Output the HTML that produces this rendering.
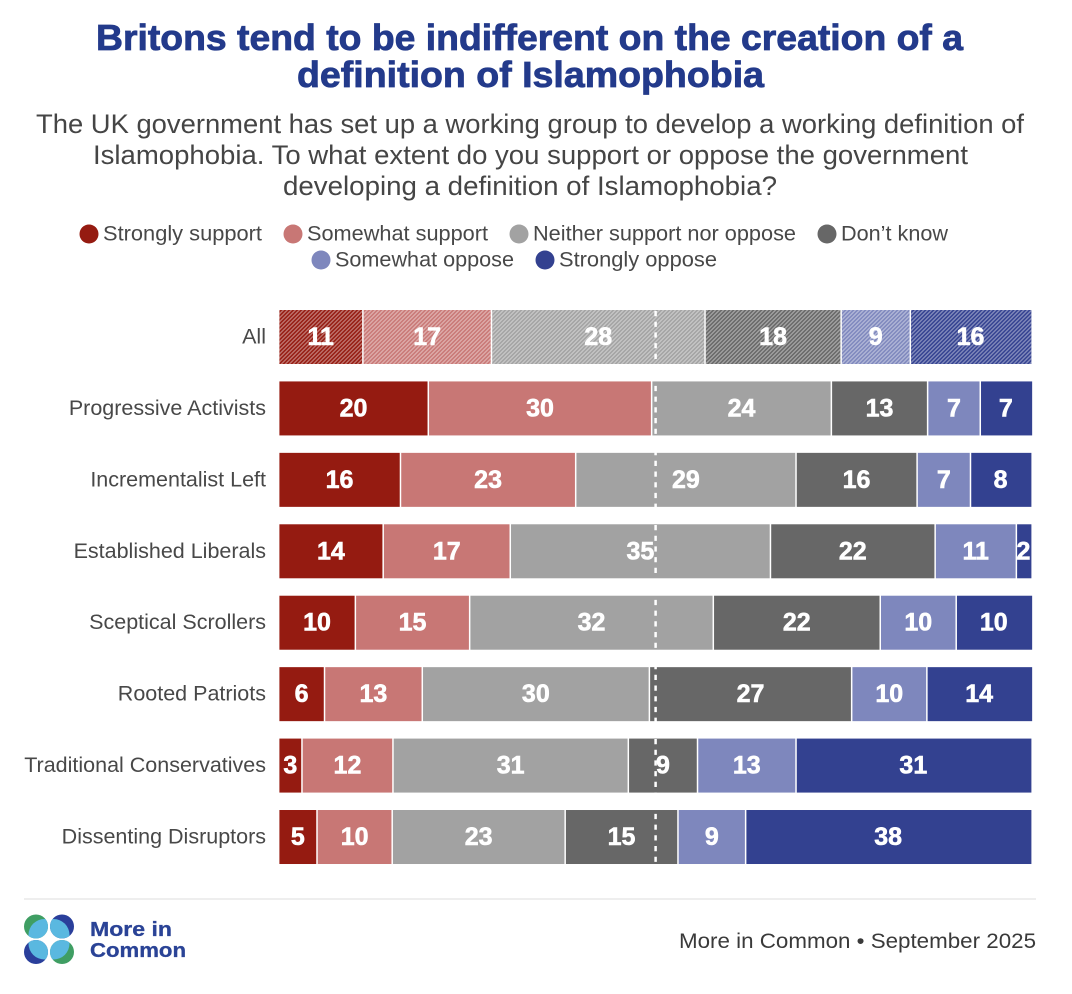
<!DOCTYPE html>
<html lang="en">
<head>
<meta charset="utf-8">
<title>Britons tend to be indifferent on the creation of a definition of Islamophobia</title>
<style>
html,body{margin:0;padding:0;background:#fff;width:1072px;height:994px;overflow:hidden}
svg{display:block}
text{font-family:"Liberation Sans",sans-serif}
.title{font-size:36px;font-weight:700;fill:#233a8b;stroke:#233a8b;stroke-width:.8px;text-anchor:start}
.sub{font-size:27px;fill:#454545}
.leg{font-size:21px;fill:#484848}
.cat{font-size:21.5px;fill:#484848;text-anchor:end}
.val{font-size:25px;font-weight:700;fill:#fff;stroke:#fff;stroke-width:.6px;text-anchor:middle}
.foot{font-size:21px;fill:#3a3a3a}
.logo{font-size:20px;font-weight:700;fill:#2a4396;stroke:#2a4396;stroke-width:.3px}
</style>
</head>
<body>
<svg id="chart" xmlns="http://www.w3.org/2000/svg" width="1072" height="994" viewBox="0 0 1072 994">
<defs>
<pattern id="hatch" width="2.83" height="2.83" patternUnits="userSpaceOnUse" patternTransform="rotate(-45)">
<rect x="0" y="0" width="2.83" height="1.41" fill="#fff" fill-opacity="0.38"/>
</pattern>
<clipPath id="c1"><circle cx="36" cy="926.5" r="12"/></clipPath>
<clipPath id="c2"><circle cx="62" cy="926.5" r="12"/></clipPath>
<clipPath id="c3"><circle cx="36" cy="952" r="12"/></clipPath>
<clipPath id="c4"><circle cx="62" cy="952" r="12"/></clipPath>
</defs>
<rect width="1072" height="994" fill="#fff"/>

<text class="title" x="96" y="50" textLength="867" lengthAdjust="spacingAndGlyphs">Britons tend to be indifferent on the creation of a</text>
<text class="title" x="297" y="87" textLength="467" lengthAdjust="spacingAndGlyphs">definition of Islamophobia</text>

<text class="sub" x="36" y="133" textLength="988" lengthAdjust="spacingAndGlyphs">The UK government has set up a working group to develop a working definition of</text>
<text class="sub" x="93" y="164" textLength="875" lengthAdjust="spacingAndGlyphs">Islamophobia. To what extent do you support or oppose the government</text>
<text class="sub" x="283" y="195" textLength="494" lengthAdjust="spacingAndGlyphs">developing a definition of Islamophobia?</text>

<g>
<circle cx="89" cy="234" r="9.5" fill="#951b11"/>
<text class="leg" x="103" y="240.5" textLength="159" lengthAdjust="spacingAndGlyphs">Strongly support</text>
<circle cx="293" cy="234" r="9.5" fill="#c87775"/>
<text class="leg" x="307" y="240.5" textLength="181" lengthAdjust="spacingAndGlyphs">Somewhat support</text>
<circle cx="519" cy="234" r="9.5" fill="#a2a2a2"/>
<text class="leg" x="533" y="240.5" textLength="263" lengthAdjust="spacingAndGlyphs">Neither support nor oppose</text>
<circle cx="827" cy="234" r="9.5" fill="#676767"/>
<text class="leg" x="841" y="240.5" textLength="107" lengthAdjust="spacingAndGlyphs">Don’t know</text>
<circle cx="321" cy="260" r="9.5" fill="#7e87bd"/>
<text class="leg" x="335" y="266.5" textLength="179" lengthAdjust="spacingAndGlyphs">Somewhat oppose</text>
<circle cx="545" cy="260" r="9.5" fill="#334190"/>
<text class="leg" x="559" y="266.5" textLength="158" lengthAdjust="spacingAndGlyphs">Strongly oppose</text>
</g>

<g id="plot"></g>

<line x1="24" y1="899" x2="1036" y2="899" stroke="#dedede" stroke-width="1"/>

<g>
<circle cx="36" cy="926.5" r="12" fill="#3f9e63"/>
<circle cx="62" cy="926.5" r="12" fill="#2a3f9b"/>
<circle cx="36" cy="952" r="12" fill="#2a3f9b"/>
<circle cx="62" cy="952" r="12" fill="#3f9e63"/>
<circle cx="44.5" cy="935" r="16" fill="#5ab8e0" clip-path="url(#c1)"/>
<circle cx="53.5" cy="935" r="16" fill="#5ab8e0" clip-path="url(#c2)"/>
<circle cx="44.5" cy="943.5" r="16" fill="#5ab8e0" clip-path="url(#c3)"/>
<circle cx="53.5" cy="943.5" r="16" fill="#5ab8e0" clip-path="url(#c4)"/>
<text class="logo" x="90" y="936" textLength="82" lengthAdjust="spacingAndGlyphs">More in</text>
<text class="logo" x="90" y="957" textLength="96" lengthAdjust="spacingAndGlyphs">Common</text>
</g>

<text class="foot" x="679" y="948" textLength="357" lengthAdjust="spacingAndGlyphs">More in Common • September 2025</text>
</svg>

<script>
const categories = ["All", "Progressive Activists", "Incrementalist Left", "Established Liberals", "Sceptical Scrollers", "Rooted Patriots", "Traditional Conservatives", "Dissenting Disruptors"];
const stronglySupport = [11.2, 19.9, 16.2, 13.9, 10.2, 6.1, 3.1, 5.1];
const somewhatSupport = [17.1, 29.7, 23.3, 16.9, 15.2, 13.0, 12.1, 10.0];
const neitherSupportNorOppose = [28.4, 23.9, 29.3, 34.6, 32.4, 30.2, 31.3, 23.0];
const dontKnow = [18.1, 12.8, 16.1, 21.9, 22.2, 26.9, 9.2, 15.0];
const somewhatOppose = [9.2, 7.0, 7.1, 10.8, 10.1, 10.0, 13.1, 9.0];
const stronglyOppose = [16.0, 6.8, 8.0, 1.9, 10.0, 13.9, 31.2, 37.9];
const midpointValue = [50];
const hatchedCategories = ["All"];

const seriesList = [stronglySupport, somewhatSupport, neitherSupportNorOppose, dontKnow, somewhatOppose, stronglyOppose];
const seriesKeys = ["strongly-support", "somewhat-support", "neither", "dont-know", "somewhat-oppose", "strongly-oppose"];
const seriesColors = ["#951b11", "#c87775", "#a2a2a2", "#676767", "#7e87bd", "#334190"];

const NS = "http://www.w3.org/2000/svg";
const plot = document.getElementById("plot");
const xAxis = v => 279.4 + v * 7.52;
const yAxis = i => 310 + i * 71.43;
const barHeight = 54;

function make(tag, attrs, parent) {
  const el = document.createElementNS(NS, tag);
  for (const k in attrs) el.setAttribute(k, attrs[k]);
  parent.appendChild(el);
  return el;
}

categories.forEach((cat, i) => {
  const top = yAxis(i);
  const slug = cat.toLowerCase().replace(/\s+/g, "-");
  const row = make("g", {}, plot);
  
  

  const label = make("text", { class: "cat", x: 266, y: top + barHeight / 2 + 6.5 }, row);
  label.textContent = cat;
  
  

  let cum = 0;
  seriesList.forEach((series, s) => {
    const v = series[i];
    const x0 = xAxis(cum);
    const x1 = xAxis(cum + v);
    const rightGap = s < seriesList.length - 1 ? 1.5 : 0;
    const w = Math.max(0, x1 - x0 - rightGap);
    const bar = make("rect", { x: x0, y: top, width: w, height: barHeight, fill: seriesColors[s] }, row);
    
    
    if (hatchedCategories.includes(cat)) {
      const hatch = make("rect", { x: x0, y: top, width: w, height: barHeight, fill: "url(#hatch)" }, row);
      
      
    }
    cum += v;
  });

  cum = 0;
  seriesList.forEach((series, s) => {
    const v = series[i];
    const t = make("text", { class: "val", x: xAxis(cum + v / 2) - 0.75, y: top + barHeight / 2 + 8 }, row);
    t.textContent = String(Math.round(v));
    
    
    cum += v;
  });
});

const midpoint = make("line", {
  x1: xAxis(midpointValue[0]) + 0.2, x2: xAxis(midpointValue[0]) + 0.2,
  y1: 311, y2: 864,
  stroke: "#fff", "stroke-width": 2.5, "stroke-dasharray": "5.2 5.5"
}, plot);


</script>
</body>
</html>
